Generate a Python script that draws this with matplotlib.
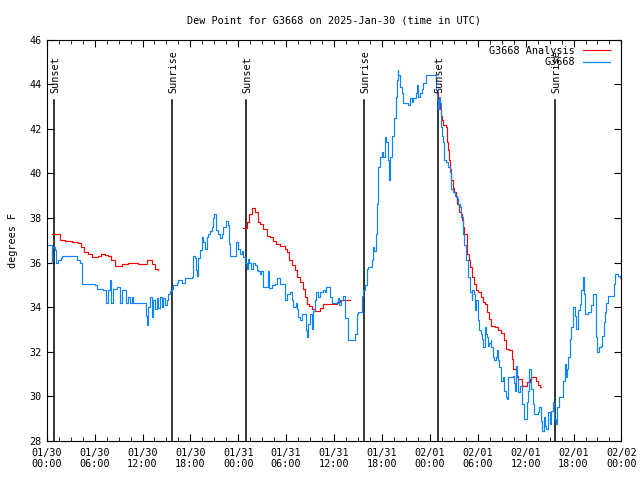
import matplotlib
matplotlib.use("Agg")
import matplotlib.pyplot as plt
import numpy as np

# hours since 2025-01-30 00:00 UTC, dew point in F
obs_hours = [0.13, 0.63, 0.70, 1.04, 1.16, 1.45, 1.79, 1.95, 3.54, 3.76, 4.17, 4.46, 6.05, 6.26,
             7.09, 7.43, 7.68, 7.93, 8.05, 8.34, 8.77, 9.18, 9.43, 9.68, 9.89, 10.14, 10.43, 10.68,
             10.81, 12.31, 12.43, 12.56, 12.72, 12.94, 13.15, 13.35, 13.56, 13.77, 13.97, 14.19,
             14.40, 14.60, 14.81, 15.03, 15.23, 15.44, 15.65, 15.85, 16.28, 16.48, 16.90, 17.32,
             17.66, 18.16, 18.28, 18.36, 18.53, 18.70, 18.86, 18.98, 19.20, 19.41, 19.61, 19.82,
             20.04, 20.24, 20.45, 20.66, 20.86, 20.99, 21.20, 21.49, 21.70, 21.91, 22.11, 22.45,
             22.66, 22.87, 22.95, 23.49, 23.70, 23.99, 24.21, 24.42, 24.62, 24.83, 25.04, 25.24,
             25.39, 25.54, 25.87, 26.08, 26.30, 26.50, 26.71, 26.83, 27.05, 27.55, 27.67, 27.84,
             28.17, 28.59, 28.88, 29.21, 29.63, 29.84, 30.05, 30.47, 30.68, 30.88, 31.22, 31.38,
             31.51, 31.72, 31.93, 32.22, 32.47, 32.63, 32.76, 32.97, 33.18, 33.38, 33.60, 33.72,
             34.01, 34.22, 34.56, 34.85, 34.97, 35.26, 35.47, 35.69, 36.31, 36.48, 36.64, 36.85,
             37.14, 37.35, 37.57, 37.77, 38.32, 38.61, 38.82, 39.02, 39.32, 39.48, 39.65, 39.86,
             40.07, 40.27, 40.48, 40.70, 40.90, 41.02, 41.20, 41.32, 41.45, 41.52, 41.74, 41.95,
             42.15, 42.36, 42.53, 42.70, 42.86, 42.99, 43.28, 43.53, 43.70, 43.83, 43.95, 44.03,
             44.24, 44.45, 44.65, 45.08, 45.28, 45.49, 45.70, 45.91, 46.21, 46.41, 46.54, 46.75,
             46.96, 47.16, 47.46, 48.62, 48.75, 48.87, 49.04, 49.16, 49.29, 49.37, 49.54, 49.66,
             49.79, 50.04, 50.29, 50.50, 50.71, 50.91, 51.12, 51.34, 51.54, 51.75, 51.96, 52.17,
             52.29, 52.50, 52.79, 53.00, 53.22, 53.34, 53.50, 53.63, 53.84, 54.04, 54.17, 54.35,
             54.47, 54.67, 54.88, 55.01, 55.17, 55.30, 55.45, 55.60, 55.72, 55.85, 56.01, 56.26,
             56.42, 56.55, 56.68, 56.85, 57.10, 57.26, 57.51, 57.68, 57.80, 58.23, 58.39, 58.55,
             58.64, 58.77, 58.93, 59.05, 59.27, 59.48, 59.60, 59.77, 59.93, 60.11, 60.31, 60.43,
             60.58, 60.73, 60.86, 61.02, 61.56, 61.68, 61.83, 61.98, 62.11, 62.27, 62.43, 62.61,
             62.81, 63.02, 63.23, 63.43, 63.56, 63.77, 63.93, 64.19, 64.49, 64.69, 64.90, 65.03,
             65.19, 65.32, 65.53, 65.74, 65.94, 66.15, 66.28, 66.44, 66.57, 66.78, 66.99, 67.19,
             67.28, 67.40, 67.82, 68.24, 68.45, 68.66, 68.78, 68.87, 68.99, 69.19, 69.49, 69.62,
             69.78, 69.91, 70.12, 70.32, 70.87, 71.04, 71.25, 71.58, 71.88]
obs_dewpt = [36.77, 36.0, 36.7, 36.55, 36.0, 36.1, 36.2, 36.3, 36.3, 36.1, 36.0, 35.05, 34.97, 34.8,
             34.75, 34.2, 34.75, 35.2, 34.2, 34.8, 34.9, 34.2, 34.75, 34.75, 34.2, 34.45, 34.2, 34.45,
             34.2, 34.2, 33.6, 33.2, 34.0, 34.45, 33.55, 34.3, 33.9, 34.4, 33.95, 34.45,
             34.0, 34.4, 34.1, 34.3, 34.6, 34.7, 34.8, 34.97, 35.1, 35.2, 35.1, 35.3,
             35.3, 35.35, 36.1, 36.3, 36.2, 35.65, 35.4, 36.2, 36.55, 37.15, 36.9, 36.6,
             37.15, 37.3, 37.4, 37.6, 37.98, 38.2, 37.45, 37.3, 37.1, 37.3, 37.6, 37.87,
             37.7, 36.85, 36.3, 36.3, 36.9, 36.6, 36.4, 36.5, 36.25, 36.0, 35.7, 36.15,
             36.0, 35.7, 36.0, 35.9, 35.65, 35.6, 35.5, 35.6, 34.9, 34.9, 35.6, 34.85,
             34.97, 35.05, 35.3, 35.05, 35.05, 34.3, 34.6, 34.67, 34.3, 34.0, 34.2, 33.9,
             33.55, 33.4, 33.7, 33.7, 32.95, 32.65, 33.25, 33.7, 33.0, 33.8, 34.3, 34.67,
             34.45, 34.67, 34.75, 34.67, 34.9, 34.9, 34.45, 34.2, 34.2, 34.4, 34.07, 34.3,
             34.5, 33.5, 33.5, 32.5, 32.5, 32.8, 33.7, 33.77, 33.77, 34.5, 34.75, 34.97,
             35.7, 35.8, 35.8, 36.1, 36.7, 36.5, 37.3, 38.65, 39.7, 40.3, 40.75, 40.97,
             40.75, 41.65, 41.4, 40.6, 39.7, 40.75, 41.7, 42.5, 43.45, 44.2, 44.65, 44.4,
             43.9, 43.6, 43.15, 43.15, 43.07, 43.4, 43.2, 43.4, 43.6, 43.97, 43.45, 43.6,
             43.8, 44.05, 44.4, 44.4, 43.75, 43.3, 42.9, 43.45, 43.15, 42.1, 41.7, 41.4,
             40.6, 40.5, 40.3, 40.07, 39.32, 39.17, 39.0, 38.9, 38.65, 38.5, 38.05, 37.3,
             36.77, 36.1, 35.35, 34.67, 34.3, 34.75, 34.6, 33.85, 34.3, 33.4, 32.95, 32.8,
             32.57, 32.2, 33.1, 32.8, 32.65, 32.27, 32.4, 32.5, 32.2, 31.75, 31.6, 31.75,
             32.05, 31.6, 31.3, 30.7, 30.85, 30.25, 29.95, 29.87, 30.85, 30.88, 30.9, 30.6,
             30.25, 31.37, 30.85, 30.17, 30.47, 30.47, 29.65, 28.98, 28.95, 29.73, 30.25, 31.22,
             31.2, 30.32, 29.65, 29.2, 29.27, 29.5, 29.5, 28.9, 28.45, 29.05, 28.67, 28.52,
             29.27, 28.75, 29.35, 29.73, 28.98, 28.75, 29.5, 29.97, 29.97, 30.7, 31.45, 30.85,
             31.22, 31.75, 32.57, 33.1, 34.0, 33.6, 33.0, 33.0, 33.85, 34.15, 34.75, 35.35,
             34.6, 33.7, 33.77, 34.07, 34.6, 34.6, 33.6, 32.65, 31.97, 32.2, 32.27, 32.72,
             33.32, 33.77, 34.2, 34.5, 34.5, 35.05, 35.47, 35.4, 35.3]

# analysis runs (three separate segments)
ana1_hours = [0.70, 1.04, 1.67, 2.29, 3.13, 3.96, 4.30, 4.71, 5.13, 5.63, 6.05, 6.39, 6.80, 7.24,
              7.71, 8.05, 8.55, 8.89, 9.47, 10.22, 10.84, 11.47, 11.93, 12.52, 12.94, 13.22,
              13.56, 13.90]
ana1_dewpt = [37.3, 37.3, 37.03, 36.95, 36.92, 36.87, 36.7, 36.47, 36.4, 36.25, 36.25, 36.3, 36.37,
              36.35, 36.28, 36.1, 35.83, 35.86, 35.95, 35.99, 35.99, 35.92, 35.95, 36.1, 36.1,
              35.95, 35.72, 35.68]
ana2_hours = [24.62, 24.96, 25.12, 25.37, 25.67, 25.87, 26.08, 26.50, 26.71, 27.12, 27.62, 27.96,
              28.38, 28.71, 29.21, 29.84, 30.05, 30.38, 30.68, 31.09, 31.38, 31.72, 32.13, 32.34,
              32.56, 32.88, 33.18, 33.60, 33.88, 34.22, 34.64, 35.06, 35.89, 36.31, 36.73, 37.14,
              37.98]
ana2_dewpt = [37.57, 37.57, 37.82, 38.2, 38.47, 38.47, 38.27, 37.82, 37.75, 37.52, 37.18, 37.15,
              36.97, 36.82, 36.73, 36.62, 36.47, 36.1, 35.87, 35.65, 35.35, 35.12, 34.82, 34.45,
              34.12, 34.03, 33.92, 33.82, 33.82, 33.97, 34.12, 34.12, 34.12, 34.22, 34.33, 34.33,
              34.3]
ana3_hours = [48.84, 49.04, 49.25, 49.37, 49.54, 49.66, 49.96, 50.09, 50.29, 50.42, 50.50, 50.71,
              50.84, 51.04, 51.25, 51.46, 51.62, 51.87, 52.04, 52.17, 52.29, 52.59, 52.92, 53.09,
              53.34, 53.51, 53.76, 54.04, 54.35, 54.60, 54.88, 55.17, 55.42, 55.72, 56.14, 56.55,
              56.97, 57.26, 57.51, 57.93, 58.23, 58.43, 58.77, 59.05, 59.48, 59.89, 60.23, 60.52,
              60.73, 61.02, 61.27, 61.56, 61.77, 61.98]
ana3_dewpt = [43.67, 43.3, 42.9, 42.6, 42.4, 42.17, 42.1, 41.4, 41.05, 40.6, 40.22, 39.7,
              39.33, 39.17, 38.95, 38.65, 38.27, 38.2, 37.9, 37.6, 37.3, 36.4, 36.1, 35.8,
              35.35, 35.05, 34.78, 34.67, 34.45, 34.22, 34.15, 33.77, 33.47, 33.17, 33.1, 32.95,
              32.83, 32.5, 32.12, 32.05, 31.67, 31.22, 30.92, 30.77, 30.47, 30.47, 30.62, 30.77,
              30.88, 30.85, 30.7, 30.52, 30.4, 30.4]

sun_hours = [0.95, 15.73, 24.99, 39.77, 49.04, 63.69]
sun_labels = ["Sunset", "Sunrise", "Sunset", "Sunrise", "Sunset", "Sunrise"]

tick_hours = list(range(0, 73, 6))
tick_labels = ["01/30\n00:00", "01/30\n06:00", "01/30\n12:00", "01/30\n18:00",
               "01/31\n00:00", "01/31\n06:00", "01/31\n12:00", "01/31\n18:00",
               "02/01\n00:00", "02/01\n06:00", "02/01\n12:00", "02/01\n18:00",
               "02/02\n00:00"]

plt.rcParams['font.family'] = ['DejaVu Sans Mono']
plt.rcParams['font.size'] = 7.3

fig = plt.figure(figsize=(6.4, 4.8), dpi=100)
ax = fig.add_axes([0.073, 0.082, 0.898, 0.835])

# sunrise / sunset markers, label sits just above each line
for h, lab in zip(sun_hours, sun_labels):
    ax.plot([h, h], [28, 43.3], color="black", lw=1.1)
    ax.text(h + 0.15, 43.6, lab, rotation=90, ha="center", va="bottom")

# analysis segments, separated by gaps
ana_h = ana1_hours + [np.nan] + ana2_hours + [np.nan] + ana3_hours
ana_v = ana1_dewpt + [np.nan] + ana2_dewpt + [np.nan] + ana3_dewpt
ax.plot(ana_h, ana_v, color="#ff0000", lw=0.85, drawstyle="steps-post", label="G3668 Analysis")
ax.plot(obs_hours, obs_dewpt, color="#0a84ff", lw=0.85, drawstyle="steps-post", label="G3668")

ax.set_xlim(0, 72)
ax.set_ylim(28, 46)
ax.set_xticks(tick_hours)
ax.set_xticklabels(tick_labels)
ax.set_xticks(np.arange(0, 72.1, 1.5), minor=True)
ax.set_yticks(range(28, 47, 2))
ax.tick_params(which="both", direction="in", top=True, right=True)
ax.tick_params(which="major", length=5)
ax.tick_params(which="minor", length=3)
ax.tick_params(axis="x", pad=5)

ax.set_ylabel("degrees F", labelpad=8)
ax.set_title("Dew Point for G3668 on 2025-Jan-30 (time in UTC)", fontsize=7.3, pad=12)

ax.legend(loc="upper right", bbox_to_anchor=(0.991, 1.0), frameon=False, markerfirst=False,
          handlelength=2.7, borderaxespad=0.2, labelspacing=0.15, handletextpad=0.8)

fig.savefig("out.png", dpi=100)
